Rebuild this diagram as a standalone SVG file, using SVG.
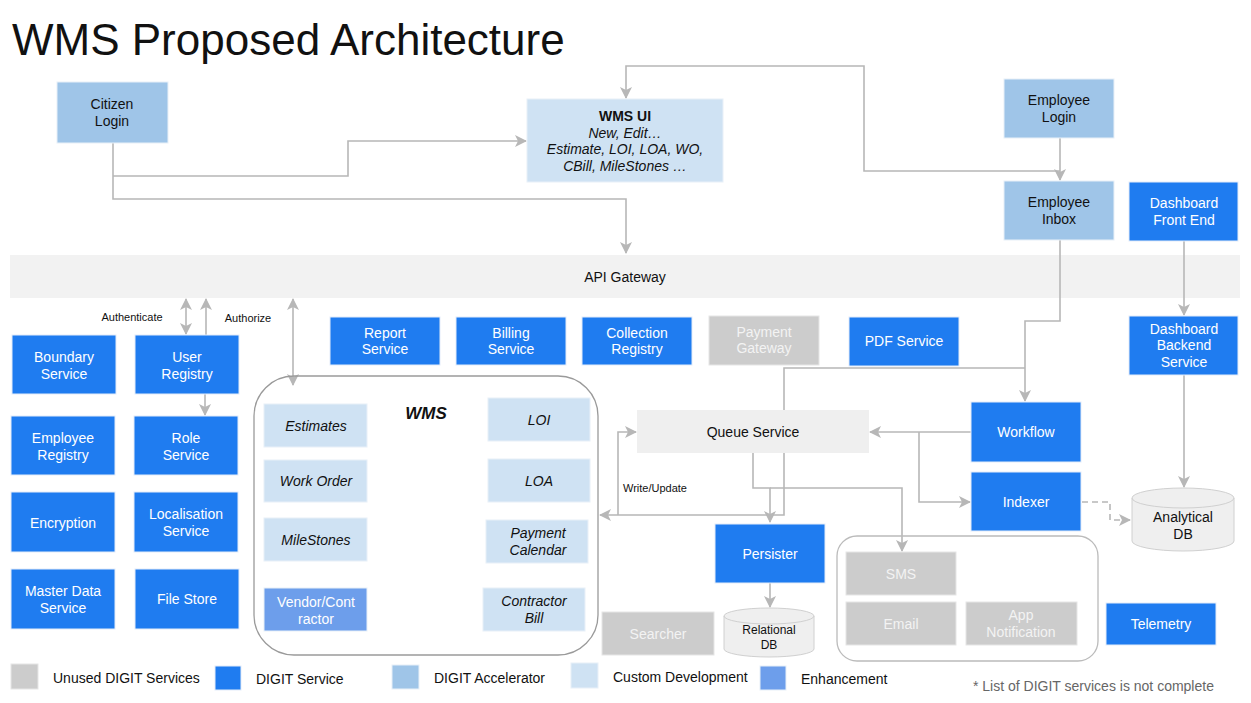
<svg xmlns="http://www.w3.org/2000/svg" width="1251" height="703" viewBox="0 0 1251 703">
<style>
text{font-family:"Liberation Sans",Arial,sans-serif;font-size:14px;text-anchor:middle;dominant-baseline:central}
.blue{fill:#1f7cf0;stroke:#e3ecf9;stroke-width:1}
.acc{fill:#9fc5e8;stroke:#e8f0f8;stroke-width:1}
.cus{fill:#cfe2f3;stroke:#e8f0f8;stroke-width:1}
.enh{fill:#6d9eeb;stroke:#e8f0f8;stroke-width:1}
.gry{fill:#cccccc;stroke:#e6e6e6;stroke-width:1}
.wt{fill:#ffffff}
.gt{fill:#f3f3f3}
.dk{fill:#111111}
.it{font-style:italic}
.conn{fill:none;stroke:#b7b7b7;stroke-width:1.6}
.dash{stroke-dasharray:6,4}
.leg{text-anchor:start;fill:#111}
</style>
<defs>
<marker id="ah" viewBox="0 0 12 12" refX="11" refY="6" markerWidth="12" markerHeight="12" markerUnits="userSpaceOnUse" orient="auto-start-reverse">
<path d="M0,0 L12,6 L0,12 L3,6 Z" fill="#b7b7b7"/>
</marker>
</defs>
<rect width="1251" height="703" fill="#ffffff"/>
<text x="12" y="39" style="font-size:44px;text-anchor:start" class="dk">WMS Proposed Architecture</text>

<g id="api-gateway"><rect x="10" y="255" width="1230" height="43" fill="#f2f2f2"/><text x="625" y="277" class="dk">API Gateway</text></g>

<g id="connectors">
<path class="conn" d="M113,143 V199 H626 V253" marker-end="url(#ah)"/>
<path class="conn" d="M113,176 H348 V141 H526" marker-end="url(#ah)"/>
<path class="conn" d="M1060,138 V180" marker-end="url(#ah)"/>
<path class="conn" d="M1060,171 H864 V66 H626 V98" marker-end="url(#ah)"/>
<path class="conn" d="M1060,240 V321 H1025 V401" marker-end="url(#ah)"/>
<path class="conn" d="M1025,368 H784 V515 H600" marker-end="url(#ah)"/>
<path class="conn" d="M618,515 V432 H636" marker-end="url(#ah)"/>
<path class="conn" d="M971,432 H870" marker-end="url(#ah)"/>
<path class="conn" d="M919,432 V502 H970" marker-end="url(#ah)"/>
<path class="conn" d="M753,453 V488 H770 V522" marker-end="url(#ah)"/>
<path class="conn" d="M770,488 H902 V551" marker-end="url(#ah)"/>
<path class="conn" d="M770,583 V607" marker-end="url(#ah)"/>
<path class="conn" d="M1184,241 V315" marker-end="url(#ah)"/>
<path class="conn" d="M1184,375 V487" marker-end="url(#ah)"/>
<path class="conn dash" d="M1082,502 H1110 V520 H1130" marker-end="url(#ah)"/>
<path class="conn" d="M186,299 V334" marker-start="url(#ah)" marker-end="url(#ah)"/>
<path class="conn" d="M206,335 V299" marker-end="url(#ah)"/>
<path class="conn" d="M205,394 V415" marker-end="url(#ah)"/>
<path class="conn" d="M293,299 V385" marker-start="url(#ah)" marker-end="url(#ah)"/>
<text x="132" y="317" style="font-size:11px" class="dk">Authenticate</text>
<text x="248" y="318" style="font-size:11px" class="dk">Authorize</text>
<text x="655" y="488" style="font-size:11px" class="dk">Write/Update</text>
</g>

<g id="citizen-login"><rect x="57" y="82" width="111" height="61" class="acc"/><text x="112" y="104" class="dk">Citizen</text><text x="112" y="121" class="dk">Login</text></g>
<g id="wms-ui"><rect x="527" y="99" width="196" height="83" class="cus"/><text x="625" y="116" class="dk" style="font-weight:bold">WMS UI</text><text x="625" y="133" class="dk it">New, Edit…</text><text x="625" y="149" class="dk it">Estimate, LOI, LOA, WO,</text><text x="625" y="166" class="dk it">CBill, MileStones …</text></g>
<g id="employee-login"><rect x="1004" y="79" width="110" height="59" class="acc"/><text x="1059" y="100" class="dk">Employee</text><text x="1059" y="117" class="dk">Login</text></g>
<g id="employee-inbox"><rect x="1004" y="181" width="110" height="59" class="acc"/><text x="1059" y="202" class="dk">Employee</text><text x="1059" y="219" class="dk">Inbox</text></g>
<g id="dashboard-front-end"><rect x="1129" y="182" width="109" height="59" class="blue"/><text x="1184" y="203" class="wt">Dashboard</text><text x="1184" y="220" class="wt">Front End</text></g>

<g id="report-service"><rect x="330" y="317" width="110" height="48" class="blue"/><text x="385" y="333" class="wt">Report</text><text x="385" y="349" class="wt">Service</text></g>
<g id="billing-service"><rect x="456" y="317" width="110" height="48" class="blue"/><text x="511" y="333" class="wt">Billing</text><text x="511" y="349" class="wt">Service</text></g>
<g id="collection-registry"><rect x="582" y="317" width="110" height="48" class="blue"/><text x="637" y="333" class="wt">Collection</text><text x="637" y="349" class="wt">Registry</text></g>
<g id="payment-gateway"><rect x="709" y="316" width="110" height="49" class="gry"/><text x="764" y="332" class="gt">Payment</text><text x="764" y="348" class="gt">Gateway</text></g>
<g id="pdf-service"><rect x="849" y="317" width="110" height="49" class="blue"/><text x="904" y="341" class="wt">PDF Service</text></g>
<g id="dashboard-backend-service"><rect x="1129" y="316" width="109" height="59" class="blue"/><text x="1184" y="329" class="wt">Dashboard</text><text x="1184" y="345" class="wt">Backend</text><text x="1184" y="362" class="wt">Service</text></g>

<g id="boundary-service"><rect x="12" y="335" width="104" height="59" class="blue"/><text x="64" y="357" class="wt">Boundary</text><text x="64" y="374" class="wt">Service</text></g>
<g id="user-registry"><rect x="135" y="335" width="104" height="59" class="blue"/><text x="187" y="357" class="wt">User</text><text x="187" y="374" class="wt">Registry</text></g>
<g id="employee-registry"><rect x="11" y="416" width="104" height="59" class="blue"/><text x="63" y="438" class="wt">Employee</text><text x="63" y="455" class="wt">Registry</text></g>
<g id="role-service"><rect x="134" y="416" width="104" height="59" class="blue"/><text x="186" y="438" class="wt">Role</text><text x="186" y="455" class="wt">Service</text></g>
<g id="encryption"><rect x="11" y="492" width="104" height="60" class="blue"/><text x="63" y="523" class="wt">Encryption</text></g>
<g id="localisation-service"><rect x="134" y="492" width="104" height="60" class="blue"/><text x="186" y="514" class="wt">Localisation</text><text x="186" y="531" class="wt">Service</text></g>
<g id="master-data-service"><rect x="11" y="569" width="104" height="60" class="blue"/><text x="63" y="591" class="wt">Master Data</text><text x="63" y="608" class="wt">Service</text></g>
<g id="file-store"><rect x="135" y="569" width="104" height="60" class="blue"/><text x="187" y="599" class="wt">File Store</text></g>

<g id="wms">
<rect x="254" y="376" width="344" height="279" rx="40" fill="none" stroke="#9a9a9a" stroke-width="1.3"/>
<text x="426" y="413" class="dk" style="font-size:17px;font-weight:bold;font-style:italic">WMS</text>
</g>
<g id="estimates"><rect x="264" y="404" width="103" height="43" class="cus"/><text x="316" y="426" class="dk it">Estimates</text></g>
<g id="work-order"><rect x="264" y="460" width="103" height="42" class="cus"/><text x="316" y="481" class="dk it">Work Order</text></g>
<g id="milestones"><rect x="264" y="518" width="103" height="43" class="cus"/><text x="316" y="540" class="dk it">MileStones</text></g>
<g id="vendor-contractor"><rect x="264" y="588" width="103" height="43" class="enh"/><text x="316" y="602" class="wt">Vendor/Cont</text><text x="316" y="619" class="wt">ractor</text></g>
<g id="loi"><rect x="488" y="398" width="102" height="43" class="cus"/><text x="539" y="420" class="dk it">LOI</text></g>
<g id="loa"><rect x="488" y="459" width="102" height="43" class="cus"/><text x="539" y="481" class="dk it">LOA</text></g>
<g id="payment-calendar"><rect x="486" y="520" width="102" height="43" class="cus"/><text x="538" y="533" class="dk it">Payment</text><text x="538" y="550" class="dk it">Calendar</text></g>
<g id="contractor-bill"><rect x="483" y="588" width="102" height="43" class="cus"/><text x="534" y="601" class="dk it">Contractor</text><text x="534" y="618" class="dk it">Bill</text></g>

<g id="queue-service"><rect x="637" y="410" width="232" height="43" fill="#efefef"/><text x="753" y="432" class="dk">Queue Service</text></g>
<g id="workflow"><rect x="971" y="402" width="110" height="60" class="blue"/><text x="1026" y="432" class="wt">Workflow</text></g>
<g id="indexer"><rect x="971" y="472" width="110" height="59" class="blue"/><text x="1026" y="502" class="wt">Indexer</text></g>
<g id="persister"><rect x="715" y="524" width="110" height="59" class="blue"/><text x="770" y="554" class="wt">Persister</text></g>
<g id="searcher"><rect x="602" y="612" width="112" height="43" class="gry"/><text x="658" y="634" class="gt">Searcher</text></g>
<g id="relational-db">
<path d="M724,616 A45,8 0 0 1 814,616 V649 A45,8 0 0 1 724,649 Z" fill="#efefef" stroke="#d0d0d0" stroke-width="1"/>
<path d="M724,616 A45,8 0 0 0 814,616" fill="none" stroke="#d0d0d0" stroke-width="1"/>
<text x="769" y="630" class="dk" style="font-size:12px">Relational</text><text x="769" y="645" class="dk" style="font-size:12px">DB</text>
</g>
<g id="analytical-db">
<path d="M1132,498 A51,10 0 0 1 1234,498 V541 A51,10 0 0 1 1132,541 Z" fill="#efefef" stroke="#d0d0d0" stroke-width="1"/>
<path d="M1132,498 A51,10 0 0 0 1234,498" fill="none" stroke="#d0d0d0" stroke-width="1"/>
<text x="1183" y="517" class="dk">Analytical</text><text x="1183" y="534" class="dk">DB</text>
</g>
<g id="notifications">
<rect x="837" y="536" width="261" height="125" rx="20" fill="none" stroke="#bbbbbb" stroke-width="1.3"/>
</g>
<g id="sms"><rect x="846" y="552" width="110" height="43" class="gry"/><text x="901" y="574" class="gt">SMS</text></g>
<g id="email"><rect x="846" y="602" width="110" height="43" class="gry"/><text x="901" y="624" class="gt">Email</text></g>
<g id="app-notification"><rect x="966" y="602" width="111" height="43" class="gry"/><text x="1021" y="615" class="gt">App</text><text x="1021" y="632" class="gt">Notification</text></g>
<g id="telemetry"><rect x="1106" y="603" width="110" height="42" class="blue"/><text x="1161" y="624" class="wt">Telemetry</text></g>

<g id="legend">
<rect x="11" y="664" width="27" height="25" class="gry"/><text x="53" y="678" class="leg">Unused DIGIT Services</text>
<rect x="215" y="666" width="26" height="24" class="blue"/><text x="256" y="679" class="leg">DIGIT Service</text>
<rect x="392" y="665" width="27" height="24" class="acc"/><text x="434" y="678" class="leg">DIGIT Accelerator</text>
<rect x="571" y="663" width="27" height="25" class="cus"/><text x="613" y="677" class="leg">Custom Development</text>
<rect x="760" y="666" width="26" height="24" class="enh"/><text x="801" y="679" class="leg">Enhancement</text>
<text x="973" y="686" class="leg" style="fill:#666666">* List of DIGIT services is not complete</text>
</g>
</svg>
